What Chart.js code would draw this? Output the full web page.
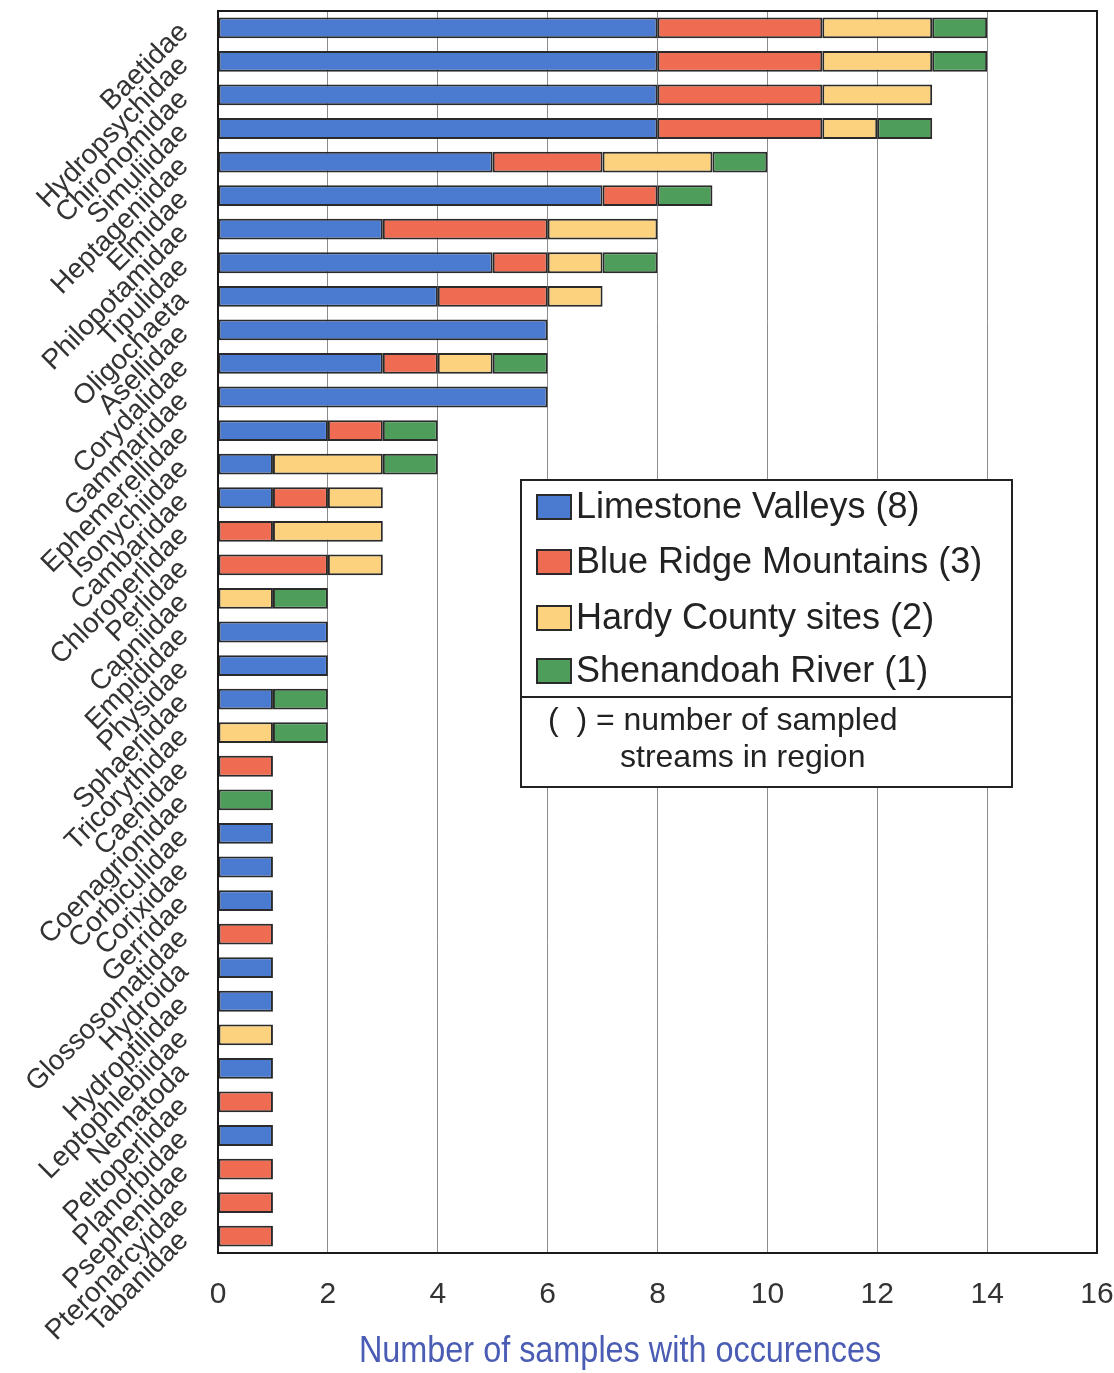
<!DOCTYPE html>
<html>
<head>
<meta charset="utf-8">
<title>Macroinvertebrate families by region</title>
<script src="https://cdn.jsdelivr.net/npm/chart.js@4/dist/chart.umd.min.js"></script>
<style>
  html, body { margin: 0; padding: 0; background: #ffffff; }
  #wrap { width: 1114px; height: 1373px; position: relative; }
</style>
</head>
<body>
<div id="wrap"><canvas id="chart" width="1114" height="1373"></canvas></div>
<script>
// Families (taxa) sorted by total occurrences
const families = [
  'Baetidae', 'Hydropsychidae', 'Chironomidae', 'Simuliidae', 'Heptageniidae',
  'Elmidae', 'Philopotamidae', 'Tipulidae', 'Oligochaeta', 'Asellidae',
  'Corydalidae', 'Gammaridae', 'Ephemerellidae', 'Isonychiidae', 'Cambaridae',
  'Chloroperlidae', 'Perlidae', 'Capniidae', 'Empididae', 'Physidae',
  'Sphaeriidae', 'Tricorythidae', 'Caenidae', 'Coenagrionidae', 'Corbiculidae',
  'Corixidae', 'Gerridae', 'Glossosomatidae', 'Hydroida', 'Hydroptilidae',
  'Leptophlebiidae', 'Nematoda', 'Peltoperlidae', 'Planorbidae', 'Psephenidae',
  'Pteronarcyidae', 'Tabanidae'
];

// Number of samples with occurrences, per region
const limestoneValleys = [8, 8, 8, 8, 5, 7, 3, 5, 4, 6, 3, 6, 2, 1, 1, 0, 0, 0, 2, 2, 1, 0, 0, 0, 1, 1, 1, 0, 1, 1, 0, 1, 0, 1, 0, 0, 0];
const blueRidge        = [3, 3, 3, 3, 2, 1, 3, 1, 2, 0, 1, 0, 1, 0, 1, 1, 2, 0, 0, 0, 0, 0, 1, 0, 0, 0, 0, 1, 0, 0, 0, 0, 1, 0, 1, 1, 1];
const hardyCounty      = [2, 2, 2, 1, 2, 0, 2, 1, 1, 0, 1, 0, 0, 2, 1, 2, 1, 1, 0, 0, 0, 1, 0, 0, 0, 0, 0, 0, 0, 0, 1, 0, 0, 0, 0, 0, 0];
const shenandoah       = [1, 1, 0, 1, 1, 1, 0, 1, 0, 0, 1, 0, 1, 1, 0, 0, 0, 1, 0, 0, 1, 1, 0, 1, 0, 0, 0, 0, 0, 0, 0, 0, 0, 0, 0, 0, 0];

// Region names with the number of sampled streams
const regionLabels = [
  'Limestone Valleys (8)',
  'Blue Ridge Mountains (3)',
  'Hardy County sites (2)',
  'Shenandoah River (1)'
];
const regionColors = ['#4a7bd0', '#ef6b52', '#fdd27e', '#4e9d5a'];

// Axis tick values and titles
const xTicks = [0, 2, 4, 6, 8, 10, 12, 14, 16];
const xTitle = 'Number of samples with occurences';
const legendNote = ['(  ) = number of sampled', 'streams in region'];

const FONT = '"Liberation Sans", Arial, Helvetica, sans-serif';

const seriesValues = [limestoneValleys, blueRidge, hardyCounty, shenandoah];
const datasets = seriesValues.map((vals, i) => ({
  label: regionLabels[i],
  data: vals,
  backgroundColor: regionColors[i],
  borderColor: '#2a2a2a',
  borderWidth: 2,
  borderSkipped: false,
  categoryPercentage: 0.62,
  barPercentage: 1.0
}));

// Frame around the plot area, axis title, and the boxed legend
const framePlugin = {
  id: 'frameAndLegend',
  afterDatasetsDraw(chart) {
    const { ctx, chartArea: a } = chart;
    ctx.save();
    ctx.strokeStyle = '#1a1a1a';
    ctx.lineWidth = 2;
    ctx.strokeRect(a.left, a.top, a.right - a.left, a.bottom - a.top);
    ctx.restore();
  },
  afterDraw(chart) {
    const { ctx } = chart;
    ctx.save();

    // x-axis title, in a slightly narrowed face
    ctx.save();
    ctx.translate(620, 1352);
    ctx.scale(0.9, 1);
    ctx.fillStyle = '#4a5cb4';
    ctx.font = '36px ' + FONT;
    ctx.textAlign = 'center';
    ctx.textBaseline = 'middle';
    ctx.fillText(xTitle, 0, 0);
    ctx.restore();

    // legend box
    const bx = 521, by = 480, bw = 491, bh = 307;
    ctx.fillStyle = '#ffffff';
    ctx.fillRect(bx, by, bw, bh);
    ctx.strokeStyle = '#222222';
    ctx.lineWidth = 2;
    ctx.strokeRect(bx, by, bw, bh);

    const rowY = [507, 562, 618, 671];
    ctx.font = '36px ' + FONT;
    ctx.textAlign = 'left';
    ctx.textBaseline = 'middle';
    chart.data.datasets.forEach((ds, i) => {
      const y = rowY[i];
      ctx.fillStyle = ds.backgroundColor;
      ctx.fillRect(537, y - 12, 34, 24);
      ctx.strokeStyle = '#2a2a2a';
      ctx.lineWidth = 2;
      ctx.strokeRect(537, y - 12, 34, 24);
      ctx.fillStyle = '#222222';
      ctx.fillText(ds.label, 576, y + 1);
    });

    // divider and note
    ctx.beginPath();
    ctx.moveTo(bx, 697);
    ctx.lineTo(bx + bw, 697);
    ctx.strokeStyle = '#222222';
    ctx.lineWidth = 2;
    ctx.stroke();

    ctx.font = '32px ' + FONT;
    ctx.fillStyle = '#222222';
    ctx.fillText(legendNote[0], 548, 721);
    ctx.fillText(legendNote[1], 620, 758);
    ctx.restore();
  }
};

new Chart(document.getElementById('chart'), {
  type: 'bar',
  data: { labels: families, datasets },
  plugins: [framePlugin],
  options: {
    indexAxis: 'y',
    responsive: false,
    animation: false,
    layout: { padding: { top: 11, right: 17, bottom: 0, left: 0 } },
    plugins: {
      legend: { display: false },
      tooltip: { enabled: false }
    },
    scales: {
      x: {
        stacked: true,
        min: 0,
        max: 16,
        afterBuildTicks(scale) {
          scale.ticks = xTicks.map(v => ({ value: v }));
        },
        afterFit(scale) {
          scale.height = 120;
          scale.paddingLeft = 0;
          scale.paddingRight = 0;
        },
        border: { display: false },
        grid: {
          drawTicks: false,
          lineWidth: 1,
          color: (c) => (c.tick && (c.tick.value === 0 || c.tick.value === 16)) ? 'rgba(0,0,0,0)' : '#8c8c8c'
        },
        ticks: {
          padding: 24,
          color: '#333333',
          font: { family: FONT, size: 30 }
        },
        title: { display: false }
      },
      y: {
        stacked: true,
        afterFit(scale) {
          scale.width = 218;
          scale.paddingTop = 0;
          scale.paddingBottom = 0;
        },
        border: { display: false },
        grid: { display: false, drawTicks: false },
        ticks: {
          autoSkip: false,
          minRotation: 45,
          maxRotation: 45,
          padding: 34,
          color: '#333333',
          font: { family: FONT, size: 28 }
        }
      }
    }
  }
});
</script>
</body>
</html>
